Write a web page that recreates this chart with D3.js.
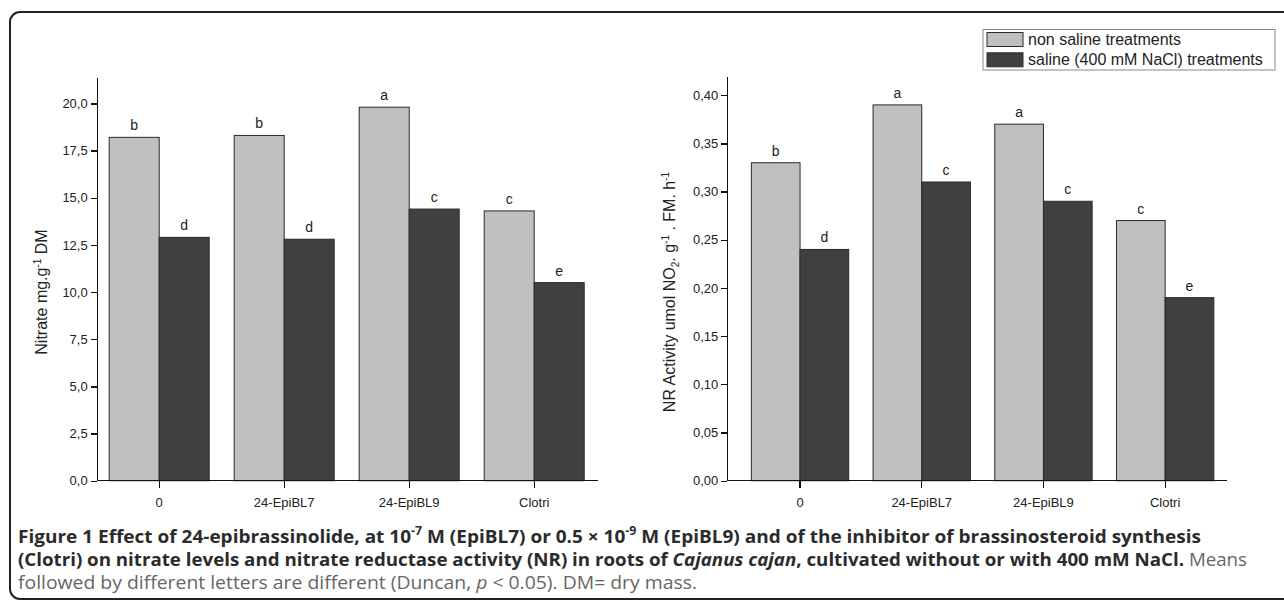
<!DOCTYPE html>
<html lang="en">
<head>
    <meta charset="UTF-8">
    <title>Figure 1 - nitrate and NR activity</title>
    <script src="https://d3js.org/d3.v7.min.js"></script>
    <style>
        body { margin: 0; background: #fff; }
        svg { display: block; }
        .axis text { font-family: "Liberation Sans", Arial, sans-serif; font-size: 13px; fill: #222; }
        .axis path, .axis line { stroke: #111; stroke-width: 1.3; shape-rendering: crispEdges; }
        .letter { font-family: "Liberation Sans", Arial, sans-serif; font-size: 14px; fill: #222; }
        .ylabel { font-family: "Liberation Sans", Arial, sans-serif; font-size: 16px; fill: #222; }
        .legend text { font-family: "Liberation Sans", Arial, sans-serif; font-size: 16px; fill: #222; }
        .caption { font-family: "Open Sans", "Noto Sans", sans-serif; font-size: 18.5px; }
    </style>
</head>
<body>
    <script>
        // categories and values
        const categories = ["0", "24-EpiBL7", "24-EpiBL9", "Clotri"];
        const seriesNames = ["non saline treatments", "saline (400 mM NaCl) treatments"];

        const nitrateNonSaline = [18.2, 18.3, 19.8, 14.3];
        const nitrateSaline = [12.9, 12.8, 14.4, 10.5];
        const nitrateLettersNonSaline = ["b", "b", "a", "c"];
        const nitrateLettersSaline = ["d", "d", "c", "e"];
        const nitrateTicks = [0, 2.5, 5, 7.5, 10, 12.5, 15, 17.5, 20];

        const nrNonSaline = [0.33, 0.39, 0.37, 0.27];
        const nrSaline = [0.24, 0.31, 0.29, 0.19];
        const nrLettersNonSaline = ["b", "a", "a", "c"];
        const nrLettersSaline = ["d", "c", "c", "e"];
        const nrTicks = [0, 0.05, 0.10, 0.15, 0.20, 0.25, 0.30, 0.35, 0.40];

        const colors = ["#c0c0c0", "#404040"];

        const W = 1284, H = 600;
        const svg = d3.select("body").append("svg")
            .attr("width", W)
            .attr("height", H);

        // rounded frame, runs off the right and bottom edge
        svg.append("rect")
            .attr("x", 10).attr("y", 12)
            .attr("width", 1300).attr("height", 587)
            .attr("rx", 10)
            .attr("fill", "none")
            .attr("stroke", "#222")
            .attr("stroke-width", 2);

        function drawPanel(p) {
            const g = svg.append("g");

            const x0 = d3.scaleBand()
                .domain(categories)
                .range(p.xRange)
                .paddingInner(0);

            const x1 = d3.scaleBand()
                .domain([0, 1])
                .range([x0.bandwidth() * 0.1, x0.bandwidth() * 0.9]);

            const y = d3.scaleLinear()
                .domain([0, p.yMax])
                .range([480.7, p.yTop]);

            const rows = categories.map((c, i) => ({
                cat: c,
                vals: [p.non[i], p.sal[i]],
                letters: [p.lettersNon[i], p.lettersSal[i]]
            }));

            const groups = g.selectAll("g.grp")
                .data(rows)
                .enter().append("g")
                .attr("class", "grp")
                .attr("transform", d => `translate(${x0(d.cat)},0)`);

            groups.selectAll("rect")
                .data(d => d.vals.map((v, k) => ({ k: k, v: v })))
                .enter().append("rect")
                .attr("x", d => x1(d.k))
                .attr("y", d => y(d.v))
                .attr("width", x1.bandwidth())
                .attr("height", d => y(0) - y(d.v))
                .attr("fill", d => colors[d.k])
                .attr("stroke", "#2a2a2a")
                .attr("stroke-width", 1);

            groups.selectAll("text")
                .data(d => d.vals.map((v, k) => ({ k: k, v: v, l: d.letters[k] })))
                .enter().append("text")
                .attr("class", "letter")
                .attr("x", d => x1(d.k) + x1.bandwidth() / 2)
                .attr("y", d => y(d.v) - 7)
                .attr("text-anchor", "middle")
                .text(d => d.l);

            // y axis
            const yAxis = g.append("g")
                .attr("class", "axis")
                .attr("transform", `translate(${p.axisX},0)`)
                .call(d3.axisLeft(y)
                    .tickValues(p.ticks)
                    .tickSize(6)
                    .tickSizeOuter(0)
                    .tickFormat(d => d3.format(p.fmt)(d).replace(".", ",")));
            yAxis.selectAll("text").attr("x", -9);

            // x axis
            const xAxis = g.append("g")
                .attr("class", "axis")
                .attr("transform", `translate(0,${y(0)})`)
                .call(d3.axisBottom(x0).tickSize(7).tickSizeOuter(0));
            xAxis.select(".domain").remove();
            xAxis.selectAll("text").attr("y", 17);
            xAxis.append("line")
                .attr("x1", p.axisX).attr("x2", p.xRange[1] + 1)
                .attr("y1", 0).attr("y2", 0);

            // rotated axis title
            const t = g.append("text")
                .attr("class", "ylabel")
                .attr("transform", `translate(${p.labelX},292) rotate(-90)`)
                .attr("text-anchor", "middle");
            p.label.forEach(part => {
                const ts = t.append("tspan").text(part.t);
                if (part.sup) ts.attr("dy", -6).attr("font-size", 10);
                if (part.sub) ts.attr("dy", 4).attr("font-size", 10);
                if (part.back) ts.attr("dy", part.back);
            });
        }

        drawPanel({
            non: nitrateNonSaline, sal: nitrateSaline,
            lettersNon: nitrateLettersNonSaline, lettersSal: nitrateLettersSaline,
            ticks: nitrateTicks, fmt: ".1f",
            yMax: 21.4, yTop: 77,
            axisX: 96.7, xRange: [96.7, 596.7],
            labelX: 47,
            label: [
                { t: "Nitrate mg.g" },
                { t: "-1", sup: true },
                { t: " DM", back: 6 }
            ]
        });

        drawPanel({
            non: nrNonSaline, sal: nrSaline,
            lettersNon: nrLettersNonSaline, lettersSal: nrLettersSaline,
            ticks: nrTicks, fmt: ".2f",
            yMax: 0.42, yTop: 76,
            axisX: 727.3, xRange: [739.2, 1226],
            labelX: 675,
            label: [
                { t: "NR Activity umol NO" },
                { t: "2", sub: true },
                { t: ". g", back: -4 },
                { t: "-1", sup: true },
                { t: " . FM. h", back: 6 },
                { t: "-1", sup: true }
            ]
        });

        // legend
        const legend = svg.append("g").attr("class", "legend");
        legend.append("rect")
            .attr("x", 983).attr("y", 29.5)
            .attr("width", 292).attr("height", 40.5)
            .attr("fill", "#fff")
            .attr("stroke", "#888")
            .attr("stroke-width", 1);
        seriesNames.forEach((name, i) => {
            const row = legend.append("g")
                .attr("transform", `translate(987,${32.5 + i * 20.3})`);
            row.append("rect")
                .attr("width", 36).attr("height", 14)
                .attr("fill", colors[i])
                .attr("stroke", "#2a2a2a");
            row.append("text")
                .attr("x", 41).attr("y", 12.5)
                .text(name);
        });

        // caption
        const captionLines = [
            [
                { t: "Figure 1 Effect of 24-epibrassinolide, at 10", b: true },
                { t: "-7", b: true, sup: true },
                { t: " M (EpiBL7) or 0.5 × 10", b: true, back: true },
                { t: "-9", b: true, sup: true },
                { t: " M (EpiBL9) and of the inhibitor of brassinosteroid synthesis", b: true, back: true }
            ],
            [
                { t: "(Clotri) on nitrate levels and nitrate reductase activity (NR) in roots of ", b: true },
                { t: "Cajanus cajan", b: true, i: true },
                { t: ", cultivated without or with 400 mM NaCl.", b: true },
                { t: " Means" }
            ],
            [
                { t: "followed by different letters are different (Duncan, " },
                { t: "p", i: true },
                { t: " < 0.05). DM= dry mass." }
            ]
        ];
        const captionY = [543, 566, 589];
        const captionWidth = [1183, 1229, 679];

        captionLines.forEach((line, li) => {
            const txt = svg.append("text")
                .attr("class", "caption")
                .attr("x", 18)
                .attr("y", captionY[li]);
            line.forEach(part => {
                const ts = txt.append("tspan")
                    .text(part.t)
                    .attr("fill", part.b ? "#2b2b2b" : "#666")
                    .attr("font-weight", part.b ? 700 : 400);
                if (part.i) ts.attr("font-style", "italic");
                if (part.sup) ts.attr("dy", -8).attr("font-size", 12);
                if (part.back) ts.attr("dy", 8);
            });
            txt.attr("textLength", captionWidth[li])
                .attr("lengthAdjust", "spacingAndGlyphs");
        });
    </script>
</body>
</html>
